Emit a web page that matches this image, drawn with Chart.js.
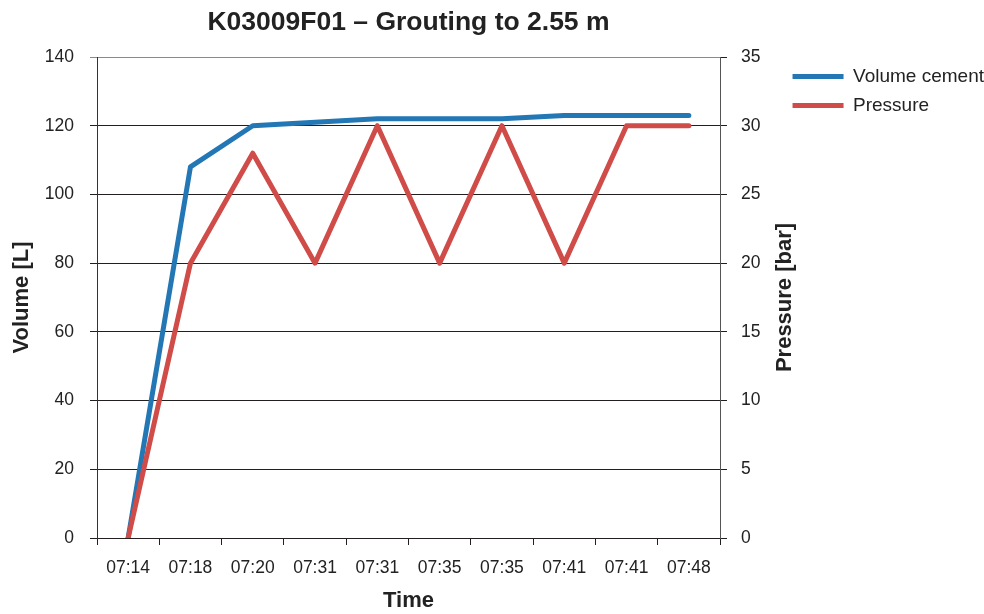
<!DOCTYPE html>
<html><head><meta charset="utf-8">
<script src="https://cdn.jsdelivr.net/npm/chart.js@4/dist/chart.umd.min.js"></script>
<style>html,body{margin:0;padding:0;background:#fff}</style>
</head><body>
<canvas id="c" width="984" height="614"></canvas>
<script>
const chartTitle = 'K03009F01 – Grouting to 2.55 m';
const categories = ['07:14','07:18','07:20','07:31','07:31','07:35','07:35','07:41','07:41','07:48'];
const volumeCement = [0,108,120,121,122,122,122,123,123,123];
const pressure = [0,20,28,20,30,20,30,20,30,30];
const seriesNames = ['Volume cement','Pressure'];
const axisTitles = {x:'Time', left:'Volume [L]', right:'Pressure [bar]'};

const FONT = "'Liberation Sans', Arial, sans-serif";
const TXT = '#222';
const BLUE = '#2277b4';
const RED = '#d04c48';
const PAD_RIGHT = -10;

const textPlugin = {
  id:'customText',
  afterDraw(chart){
    const {ctx, chartArea:a} = chart;
    ctx.save();
    ctx.fillStyle = TXT;
    ctx.textAlign = 'center';
    ctx.textBaseline = 'middle';
    ctx.font = 'bold 26.5px ' + FONT;
    ctx.fillText(chartTitle, (a.left + a.right)/2, 23);
    ctx.translate(785, (a.top + a.bottom)/2);
    ctx.rotate(-Math.PI/2);
    ctx.font = 'bold 22px ' + FONT;
    ctx.fillText(axisTitles.right, 0, 0);
    ctx.restore();
  }
};

new Chart(document.getElementById('c'), {
  type:'line',
  data:{
    labels: categories,
    datasets:[
      {label:seriesNames[0], data:volumeCement, yAxisID:'y', borderColor:BLUE, backgroundColor:BLUE,
       borderWidth:5, pointRadius:0, pointHoverRadius:0, tension:0, order:1, borderCapStyle:'round', borderJoinStyle:'round'},
      {label:seriesNames[1], data:pressure, yAxisID:'y1', borderColor:RED, backgroundColor:RED,
       borderWidth:5, pointRadius:0, pointHoverRadius:0, tension:0, order:0, borderCapStyle:'round', borderJoinStyle:'round'}
    ]
  },
  options:{
    responsive:false,
    animation:false,
    layout:{padding:{top:57, left:0, right:PAD_RIGHT, bottom:0}},
    plugins:{
      title:{display:false},
      tooltip:{enabled:false},
      legend:{
        position:'right', align:'start', maxWidth:300,
        labels:{
          font:{family:FONT, size:19}, color:TXT, boxWidth:51, boxHeight:5, padding:10,
          generateLabels(chart){
            return chart.data.datasets.map((d,i)=>({text:d.label, fillStyle:d.borderColor, strokeStyle:d.borderColor,
              lineWidth:0, hidden:false, datasetIndex:i, fontColor:TXT}));
          }
        }
      }
    },
    scales:{
      x:{
        type:'category', offset:true,
        grid:{display:true, drawOnChartArea:false, drawTicks:true, tickLength:7, color:'#231f20', offset:true},
        border:{display:true, color:'#231f20', width:1},
        ticks:{font:{family:FONT, size:17.5}, color:TXT, autoSkip:false, maxRotation:0, padding:13},
        title:{display:true, text:axisTitles.x, font:{family:FONT, size:22, weight:'bold'}, color:TXT, padding:{top:0,bottom:0}},
        afterFit(s){ s.height = 76; }
      },
      y:{
        position:'left', min:0, max:140,
        ticks:{stepSize:20, font:{family:FONT, size:17.5}, color:TXT, padding:16},
        grid:{color:(c)=> c.tick && c.tick.value===140 ? '#8a8a8a' : '#231f20', tickLength:7, lineWidth:1},
        border:{display:true, color:'#333', width:1},
        title:{display:true, text:axisTitles.left, font:{family:FONT, size:22, weight:'bold'}, color:TXT, padding:{top:9,bottom:0}},
        afterFit(s){ s.width = 97; }
      },
      y1:{
        position:'right', min:0, max:35,
        ticks:{stepSize:5, font:{family:FONT, size:17.5}, color:TXT, padding:14},
        grid:{drawOnChartArea:false, tickLength:7, color:'#231f20'},
        border:{display:true, color:'#555', width:1},
        afterFit(s){ s.width = s.chart.width - PAD_RIGHT - s.chart.legend.width - 720; }
      }
    }
  },
  plugins:[textPlugin]
});
</script>
</body></html>
